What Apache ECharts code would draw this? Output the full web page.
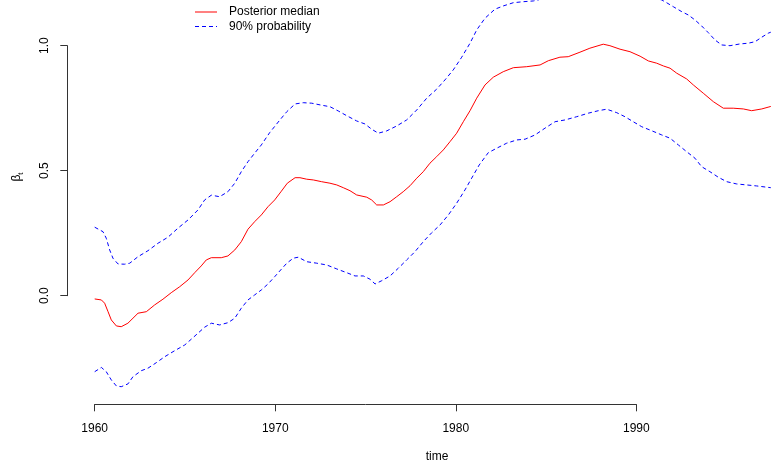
<!DOCTYPE html>
<html>
<head>
<meta charset="utf-8">
<script src="https://cdn.jsdelivr.net/npm/echarts@6/dist/echarts.min.js"></script>
<style>
  html, body { margin: 0; padding: 0; background: #fff; }
  #chart { width: 771px; height: 466px; }
</style>
</head>
<body>
<div id="chart"></div>
<script>
// Time-varying coefficient: posterior median with 90% band
const medianYears = [1960.00, 1960.37, 1960.55, 1960.74, 1960.92, 1961.20, 1961.47, 1961.84, 1962.12, 1962.40,
  1962.86, 1963.32, 1963.78, 1964.24, 1964.71, 1965.17, 1965.54, 1965.90, 1966.18, 1966.46,
  1967.01, 1967.38, 1967.76, 1968.12, 1968.49, 1968.86, 1969.23, 1969.60, 1969.97, 1970.34,
  1970.67, 1971.10, 1971.37, 1971.74, 1972.11, 1972.57, 1973.03, 1973.41, 1973.77, 1974.14,
  1974.51, 1975.07, 1975.34, 1975.62, 1975.99, 1976.36, 1976.73, 1977.09, 1977.47, 1977.84,
  1978.20, 1978.57, 1978.94, 1979.31, 1979.68, 1980.05, 1980.42, 1980.79, 1981.16, 1981.62,
  1982.08, 1982.63, 1983.19, 1983.93, 1984.67, 1985.13, 1985.77, 1986.23, 1986.88, 1987.43,
  1988.17, 1988.54, 1989.10, 1989.65, 1990.21, 1990.67, 1991.13, 1991.50, 1991.87, 1992.24,
  1992.79, 1993.16, 1993.71, 1994.27, 1994.82, 1995.37, 1995.93, 1996.39, 1996.95, 1997.30, 1997.45];
const medianValues = [-0.013, -0.017, -0.030, -0.064, -0.097, -0.121, -0.124, -0.110, -0.090, -0.070,
  -0.064, -0.037, -0.014, 0.012, 0.036, 0.063, 0.092, 0.119, 0.143, 0.152,
  0.152, 0.159, 0.183, 0.216, 0.266, 0.296, 0.323, 0.356, 0.383, 0.418,
  0.450, 0.472, 0.472, 0.466, 0.463, 0.456, 0.450, 0.443, 0.432, 0.420,
  0.403, 0.394, 0.383, 0.363, 0.363, 0.376, 0.396, 0.416, 0.440, 0.470,
  0.496, 0.530, 0.556, 0.583, 0.616, 0.650, 0.696, 0.740, 0.790, 0.843,
  0.874, 0.896, 0.912, 0.916, 0.923, 0.940, 0.954, 0.956, 0.974, 0.990,
  1.006, 1.000, 0.986, 0.976, 0.958, 0.939, 0.930, 0.919, 0.910, 0.890,
  0.867, 0.843, 0.810, 0.776, 0.750, 0.750, 0.747, 0.740, 0.747, 0.754, 0.757];

const upperYears = [1960.00, 1960.46, 1960.64, 1960.83, 1961.01, 1961.29, 1961.66, 1961.94, 1962.40, 1962.95,
  1963.51, 1964.06, 1964.61, 1965.17, 1965.72, 1966.09, 1966.46, 1966.92, 1967.38, 1967.76,
  1968.12, 1968.49, 1968.86, 1969.23, 1969.69, 1970.26, 1970.64, 1971.10, 1971.55, 1972.02,
  1972.57, 1973.03, 1973.49, 1973.96, 1974.51, 1974.97, 1975.34, 1975.71, 1976.17, 1976.73,
  1977.28, 1977.84, 1978.39, 1978.94, 1979.40, 1979.86, 1980.33, 1980.79, 1981.16, 1981.62,
  1982.17, 1982.63, 1983.19, 1983.74, 1984.30, 1984.57, 1985.50, 1986.50, 1987.50, 1988.20,
  1989.00, 1990.00, 1990.80, 1991.41, 1991.68, 1992.05, 1992.52, 1992.88, 1993.25, 1993.62,
  1993.99, 1994.36, 1994.73, 1995.19, 1995.74, 1996.20, 1996.58, 1996.95, 1997.31, 1997.45];
const upperValues = [0.274, 0.256, 0.230, 0.183, 0.150, 0.127, 0.126, 0.130, 0.156, 0.180,
  0.210, 0.234, 0.270, 0.303, 0.343, 0.383, 0.402, 0.396, 0.416, 0.450,
  0.496, 0.536, 0.570, 0.603, 0.652, 0.703, 0.736, 0.767, 0.772, 0.770,
  0.762, 0.756, 0.739, 0.720, 0.699, 0.687, 0.666, 0.650, 0.659, 0.679,
  0.703, 0.743, 0.790, 0.826, 0.863, 0.903, 0.954, 1.010, 1.063, 1.110,
  1.146, 1.159, 1.172, 1.176, 1.179, 1.183, 1.210, 1.240, 1.270, 1.280,
  1.270, 1.230, 1.195, 1.183, 1.172, 1.156, 1.136, 1.123, 1.103, 1.079,
  1.052, 1.023, 1.003, 1.000, 1.007, 1.010, 1.016, 1.034, 1.050, 1.054];

const lowerYears = [1960.00, 1960.37, 1960.64, 1960.92, 1961.20, 1961.47, 1961.84, 1962.12, 1962.58, 1962.95,
  1963.41, 1963.88, 1964.43, 1964.99, 1965.35, 1965.72, 1966.09, 1966.46, 1966.92, 1967.38,
  1967.76, 1968.12, 1968.49, 1968.86, 1969.23, 1969.60, 1969.97, 1970.34, 1970.64, 1971.00,
  1971.28, 1971.74, 1972.30, 1972.85, 1973.41, 1973.96, 1974.42, 1974.88, 1975.25, 1975.53,
  1975.90, 1976.36, 1976.82, 1977.28, 1977.74, 1978.20, 1978.67, 1979.13, 1979.59, 1980.05,
  1980.51, 1980.88, 1981.30, 1981.80, 1982.27, 1982.82, 1983.38, 1983.84, 1984.39, 1984.94,
  1985.50, 1986.05, 1986.70, 1987.34, 1987.90, 1988.36, 1988.92, 1989.37, 1989.83, 1990.30,
  1990.85, 1991.41, 1991.87, 1992.33, 1992.79, 1993.25, 1993.62, 1994.08, 1994.54, 1995.01,
  1995.56, 1996.12, 1996.67, 1997.22, 1997.45];
const lowerValues = [-0.304, -0.287, -0.304, -0.337, -0.361, -0.364, -0.353, -0.324, -0.300, -0.290,
  -0.268, -0.244, -0.220, -0.197, -0.174, -0.150, -0.126, -0.110, -0.117, -0.108,
  -0.090, -0.050, -0.017, 0.003, 0.023, 0.047, 0.076, 0.106, 0.130, 0.150,
  0.154, 0.136, 0.130, 0.123, 0.107, 0.092, 0.079, 0.079, 0.066, 0.047,
  0.060, 0.079, 0.110, 0.143, 0.176, 0.216, 0.252, 0.283, 0.323, 0.370,
  0.423, 0.470, 0.523, 0.572, 0.590, 0.610, 0.623, 0.626, 0.643, 0.670,
  0.696, 0.703, 0.716, 0.730, 0.740, 0.746, 0.732, 0.716, 0.696, 0.676,
  0.660, 0.643, 0.630, 0.603, 0.576, 0.550, 0.516, 0.496, 0.474, 0.456,
  0.447, 0.443, 0.439, 0.434, 0.432];

const xTicks = [1960, 1970, 1980, 1990];
const yTicks = [0.0, 0.5, 1.0];

const FONT = '"Liberation Sans", Arial, Helvetica, sans-serif';
const AXIS_COLOR = '#333';

function pairs(xs, ys) { return xs.map((x, i) => [x, ys[i]]); }

// Plot frame: the labelled axes cover only the tick range, while the curves
// live in a wider frame that shares the same scale (18.053 px per year,
// 250 px per unit of beta).
const PX_PER_YEAR = 18.053, PX_PER_UNIT = 250;
const W = 771, H = 466;
const tickGrid = { left: 94.7, right: 134.7, top: 45.7, bottom: 170.3 };
const dataGrid = { left: 67.3, right: 0, top: 0, bottom: 61.7 };
const x0px = tickGrid.left, y0px = H - tickGrid.bottom;   // pixel of (1960, 0)
const dataXMin = xTicks[0] - (x0px - dataGrid.left) / PX_PER_YEAR;
const dataXMax = xTicks[0] + (W - dataGrid.right - x0px) / PX_PER_YEAR;
const dataYMin = -((H - dataGrid.bottom) - y0px) / PX_PER_UNIT;
const dataYMax = (y0px - dataGrid.top) / PX_PER_UNIT;

const chart = echarts.init(document.getElementById('chart'), null, { renderer: 'canvas' });

const dashed = 'path://M0,0h4v1h-4z M7,0h4v1h-4z M14,0h4v1h-4z M21,0h1v1h-1z';

chart.setOption({
  animation: false,
  backgroundColor: '#fff',
  textStyle: { fontFamily: FONT },
  grid: [
    Object.assign({ containLabel: false }, tickGrid),
    Object.assign({ containLabel: false }, dataGrid)
  ],
  xAxis: [
    {
      gridIndex: 0, type: 'value',
      min: xTicks[0], max: xTicks[xTicks.length - 1], interval: 10,
      offset: 108.6,
      axisLine: { show: true, onZero: false, lineStyle: { color: AXIS_COLOR, width: 1 } },
      axisTick: { show: true, length: 7, lineStyle: { color: AXIS_COLOR } },
      axisLabel: { color: '#000', fontSize: 12, fontFamily: FONT, margin: 18,
        formatter: v => String(v) },
      splitLine: { show: false }
    },
    {
      gridIndex: 1, type: 'value', min: dataXMin, max: dataXMax, show: false,
      splitLine: { show: false }
    }
  ],
  yAxis: [
    {
      gridIndex: 0, type: 'value',
      min: yTicks[0], max: yTicks[yTicks.length - 1], interval: 0.5,
      offset: 27.4,
      axisLine: { show: true, onZero: false, lineStyle: { color: AXIS_COLOR, width: 1 } },
      axisTick: { show: true, length: 7, lineStyle: { color: AXIS_COLOR } },
      axisLabel: { color: '#000', fontSize: 12, fontFamily: FONT, rotate: 90, margin: 17,
        formatter: v => v.toFixed(1) },
      splitLine: { show: false }
    },
    {
      gridIndex: 1, type: 'value', min: dataYMin, max: dataYMax, show: false,
      splitLine: { show: false }
    }
  ],
  legend: {
    orient: 'vertical', left: 190, top: 1,
    itemWidth: 22, itemHeight: 1, itemGap: 2.5,
    textStyle: { color: '#000', fontSize: 12, fontFamily: FONT, padding: [0, 0, 0, 7] },
    data: [
      { name: 'Posterior median', icon: 'rect' },
      { name: '90% probability', icon: dashed }
    ]
  },
  series: [
    {
      name: 'Posterior median', type: 'line', xAxisIndex: 1, yAxisIndex: 1,
      data: pairs(medianYears, medianValues),
      showSymbol: false, symbol: 'none', clip: false,
      lineStyle: { color: '#ff0000', width: 1 }, itemStyle: { color: '#ff0000' }
    },
    {
      name: '90% probability', type: 'line', xAxisIndex: 1, yAxisIndex: 1,
      data: pairs(upperYears, upperValues),
      showSymbol: false, symbol: 'none', clip: false,
      lineStyle: { color: '#0000ff', width: 1, type: [4, 3] }, itemStyle: { color: '#0000ff' }
    },
    {
      name: '90% probability', type: 'line', xAxisIndex: 1, yAxisIndex: 1,
      data: pairs(lowerYears, lowerValues),
      showSymbol: false, symbol: 'none', clip: false,
      lineStyle: { color: '#0000ff', width: 1, type: [4, 3] }, itemStyle: { color: '#0000ff' }
    }
  ],
  graphic: [
    {
      type: 'text', x: 437, y: 457,
      style: { text: 'time', fontSize: 12, fontFamily: FONT, fill: '#000', align: 'center', verticalAlign: 'middle' }
    },
    {
      type: 'text', x: 17, y: 177, rotation: Math.PI / 2,
      style: {
        text: '{b|β}{s|t}', align: 'center', verticalAlign: 'middle',
        rich: {
          b: { fontSize: 12, fontFamily: FONT, fill: '#000', lineHeight: 16, verticalAlign: 'middle' },
          s: { fontSize: 8, fontFamily: FONT, fill: '#000', lineHeight: 16, verticalAlign: 'bottom', padding: [4, 0, 0, 0] }
        }
      }
    }
  ]
});
</script>
</body>
</html>
